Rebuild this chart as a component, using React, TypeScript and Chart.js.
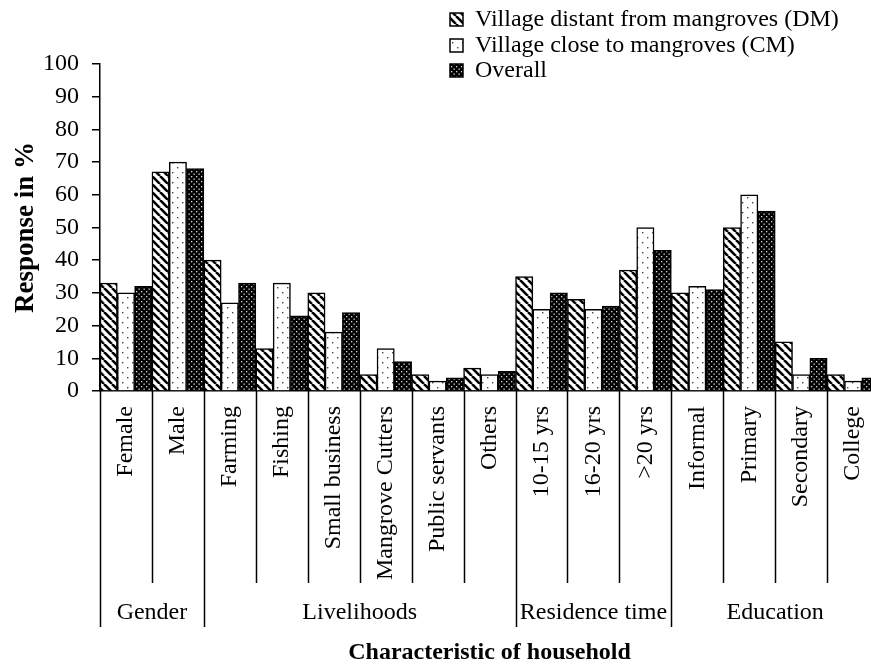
import React, { useEffect, useRef } from "react";
import { Chart, registerables } from "chart.js";

Chart.register(...registerables);

const categories = [
  "Female", "Male", "Farming", "Fishing", "Small business", "Mangrove Cutters",
  "Public servants", "Others", "10-15 yrs", "16-20 yrs", ">20 yrs",
  "Informal", "Primary", "Secondary", "College",
];
const dmValues = [33, 67, 40, 13, 30, 5, 5, 7, 35, 28, 37, 30, 50, 15, 5];
const cmValues = [30, 70, 27, 33, 18, 13, 3, 5, 25, 25, 50, 32, 60, 5, 3];
const overallValues = [32, 68, 33, 23, 24, 9, 4, 6, 30, 26, 43, 31, 55, 10, 4];
const seriesLabels = [
  "Village distant from mangroves (DM)",
  "Village close to mangroves (CM)",
  "Overall",
];
const groupNames = ["Gender", "Livelihoods", "Residence time", "Education"];
const groupSizes = [2, 6, 3, 4];
const yTitle = "Response in %";
const xTitle = "Characteristic of household";

const FONT = "'Liberation Serif', 'Times New Roman', serif";

function makePattern(kind: string): CanvasPattern | string {
  const c = document.createElement("canvas");
  const g = c.getContext("2d");
  if (!g) return "#888";
  if (kind === "stripe") {
    const s = 8;
    c.width = s; c.height = s;
    g.fillStyle = "#fff";
    g.fillRect(0, 0, s, s);
    g.strokeStyle = "#000";
    g.lineWidth = 2.6;
    for (const x0 of [-s, 0, s]) {
      g.beginPath();
      g.moveTo(x0, 0);
      g.lineTo(x0 + s, s);
      g.stroke();
    }
  } else if (kind === "dots") {
    const s = 10;
    c.width = s; c.height = s;
    g.fillStyle = "#fff";
    g.fillRect(0, 0, s, s);
    g.fillStyle = "#444";
    g.fillRect(2, 2, 1.4, 1.4);
    g.fillRect(7, 7, 1.4, 1.4);
  } else {
    const s = 5;
    c.width = s; c.height = s;
    g.fillStyle = "#000";
    g.fillRect(0, 0, s, s);
    g.fillStyle = "#ddd";
    g.fillRect(1, 1, 1.3, 1.3);
    g.fillRect(3.5, 3.5, 1.3, 1.3);
  }
  return g.createPattern(c, "repeat") || "#888";
}

export default function App() {
  const ref = useRef<HTMLCanvasElement | null>(null);

  useEffect(() => {
    if (!ref.current) return;
    const fills = [makePattern("stripe"), makePattern("dots"), makePattern("dense")];
    const seriesValues = [dmValues, cmValues, overallValues];

    const groupPlugin = {
      id: "groupPlugin",
      afterDraw(chart: any) {
        const ctx = chart.ctx;
        const xs = chart.scales.x;
        const area = chart.chartArea;
        const bx = (i: number) => xs.getPixelForValue(i - 0.5);
        ctx.save();
        ctx.strokeStyle = "#000";
        ctx.lineWidth = 1.5;
        const groupBounds: number[] = [0];
        groupSizes.forEach((n) => groupBounds.push(groupBounds[groupBounds.length - 1] + n));
        for (let i = 0; i <= categories.length; i++) {
          const isGroup = groupBounds.includes(i);
          const x = Math.round(bx(i)) + 0.5;
          ctx.beginPath();
          ctx.moveTo(x, area.bottom);
          ctx.lineTo(x, isGroup ? 627 : 583);
          ctx.stroke();
        }
        ctx.fillStyle = "#000";
        ctx.font = `24px ${FONT}`;
        ctx.textAlign = "center";
        ctx.textBaseline = "middle";
        for (let gi = 0; gi < groupNames.length; gi++) {
          const x0 = bx(groupBounds[gi]);
          const x1 = bx(groupBounds[gi + 1]);
          ctx.fillText(groupNames[gi], (x0 + x1) / 2, 613);
        }
        // legend
        const lx = 450;
        const rows = [19, 45, 70];
        ctx.textAlign = "left";
        for (let k = 0; k < seriesLabels.length; k++) {
          const y = rows[k];
          ctx.fillStyle = fills[k] as any;
          ctx.fillRect(lx, y - 6, 13, 13);
          ctx.lineWidth = 1.5;
          ctx.strokeRect(lx, y - 6, 13, 13);
          ctx.fillStyle = "#000";
          ctx.fillText(seriesLabels[k], 475, y + 1);
        }
        ctx.restore();
      },
    };

    const chart = new Chart(ref.current, {
      type: "bar",
      data: {
        labels: categories,
        datasets: seriesLabels.map((label, k) => ({
          label,
          data: seriesValues[k],
          backgroundColor: fills[k] as any,
          borderColor: "#000",
          borderWidth: 1.5,
          barPercentage: 1,
          categoryPercentage: 1,
        })),
      },
      options: {
        animation: false,
        responsive: false,
        layout: { padding: { top: 64, right: 2, bottom: 0, left: 0 } },
        plugins: { legend: { display: false }, tooltip: { enabled: false } },
        scales: {
          x: {
            ticks: {
              font: { family: FONT, size: 24 },
              color: "#000",
              minRotation: 90,
              maxRotation: 90,
              autoSkip: false,
              padding: 7,
            },
            grid: { display: false },
            border: { display: true, color: "#000", width: 1.5 },
            title: {
              display: true,
              text: xTitle,
              color: "#000",
              font: { family: FONT, size: 24, weight: "bold" },
              padding: { top: 0, bottom: 0 },
            },
            afterFit: (s: any) => { s.height = 276; },
          },
          y: {
            min: 0,
            max: 100,
            ticks: {
              stepSize: 10,
              font: { family: FONT, size: 24 },
              color: "#000",
              padding: 13,
            },
            grid: { drawOnChartArea: false, drawTicks: true, tickLength: 8, color: "#000", lineWidth: 1.5 },
            border: { display: true, color: "#000", width: 1.5 },
            title: {
              display: true,
              text: yTitle,
              color: "#000",
              font: { family: FONT, size: 27, weight: "bold" },
              padding: { top: 10, bottom: 0 },
            },
            afterFit: (s: any) => { s.width = 100; },
          },
        },
      },
      plugins: [groupPlugin],
    });
    return () => chart.destroy();
  }, []);

  return (
    <div style={{ position: "fixed", left: 0, top: 0, width: 871, height: 667, overflow: "hidden", background: "#fff" }}>
      <canvas ref={ref} width={889} height={667} />
    </div>
  );
}
